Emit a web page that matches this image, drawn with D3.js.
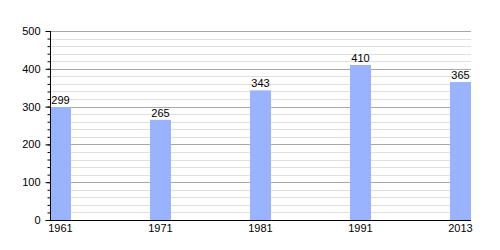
<!DOCTYPE html>
<html>
<head>
<meta charset="utf-8">
<script src="https://cdn.jsdelivr.net/npm/d3@7"></script>
<style>
  body { margin: 0; background: #fff; }
  text { font-family: "Liberation Sans", Arial, sans-serif; font-size: 11px; fill: #000; }
</style>
</head>
<body>
<svg width="500" height="250"></svg>
<script>
// data
var years = ['1961', '1971', '1981', '1991', '2013'];
var population = [299, 265, 343, 410, 365];
var majorTicks = [0, 100, 200, 300, 400, 500];
var minorTicks = d3.range(0, 501, 20);

// plot frame
var plotLeft = 50, plotRight = 471, plotTop = 31, plotBottom = 220;
var barWidth = 21;

var x = d3.scalePoint().domain(years).range([plotLeft, 450]);
var y = d3.scaleLinear().domain([0, 500]).range([plotBottom, plotTop]);

var svg = d3.select('svg');

// minor grid
svg.append('g')
    .selectAll('line')
    .data(minorTicks.filter(function (d) { return d % 100 !== 0; }))
    .enter().append('line')
    .attr('x1', plotLeft).attr('x2', plotRight)
    .attr('y1', function (d) { return Math.round(y(d)) + 0.5; })
    .attr('y2', function (d) { return Math.round(y(d)) + 0.5; })
    .attr('stroke', '#e0e0e0');

// major grid
svg.append('g')
    .selectAll('line')
    .data(majorTicks.filter(function (d) { return d > 0; }))
    .enter().append('line')
    .attr('x1', plotLeft).attr('x2', plotRight)
    .attr('y1', function (d) { return Math.round(y(d)) + 0.5; })
    .attr('y2', function (d) { return Math.round(y(d)) + 0.5; })
    .attr('stroke', '#a8a8a8');

// bars
svg.append('g')
    .selectAll('rect')
    .data(population)
    .enter().append('rect')
    .attr('x', function (d, i) { return x(years[i]); })
    .attr('y', function (d) { return y(d); })
    .attr('width', barWidth)
    .attr('height', function (d) { return plotBottom - y(d); })
    .attr('fill', '#99b3ff');

// value labels
svg.append('g')
    .selectAll('text')
    .data(population)
    .enter().append('text')
    .attr('x', function (d, i) { return x(years[i]) + barWidth / 2; })
    .attr('y', function (d) { return y(d) - 3; })
    .attr('text-anchor', 'middle')
    .text(function (d) { return d; });

// y axis, minor ticks then major ticks with labels
var yAxisMinor = d3.axisLeft(y).tickValues(minorTicks).tickSize(3).tickFormat('');
var yAxisMajor = d3.axisLeft(y).tickValues(majorTicks).tickSize(5).tickPadding(5);

svg.append('g')
    .attr('transform', 'translate(' + (plotLeft + 0.5) + ',0)')
    .call(yAxisMinor)
    .call(function (g) { g.select('.domain').remove(); });

var ya = svg.append('g')
    .attr('transform', 'translate(' + (plotLeft + 0.5) + ',0)')
    .call(yAxisMajor);
ya.select('.domain').attr('d', 'M0,' + plotTop + 'V' + plotBottom);
ya.selectAll('text').style('font-size', '11px').style('font-family', '"Liberation Sans", Arial, sans-serif');

// x axis line and labels
svg.append('line')
    .attr('x1', plotLeft).attr('x2', plotRight)
    .attr('y1', plotBottom + 0.5).attr('y2', plotBottom + 0.5)
    .attr('stroke', '#000');

svg.append('g')
    .selectAll('text')
    .data(years)
    .enter().append('text')
    .attr('x', function (d) { return x(d) + barWidth / 2; })
    .attr('y', plotBottom + 12)
    .attr('text-anchor', 'middle')
    .text(function (d) { return d; });
</script>
</body>
</html>
